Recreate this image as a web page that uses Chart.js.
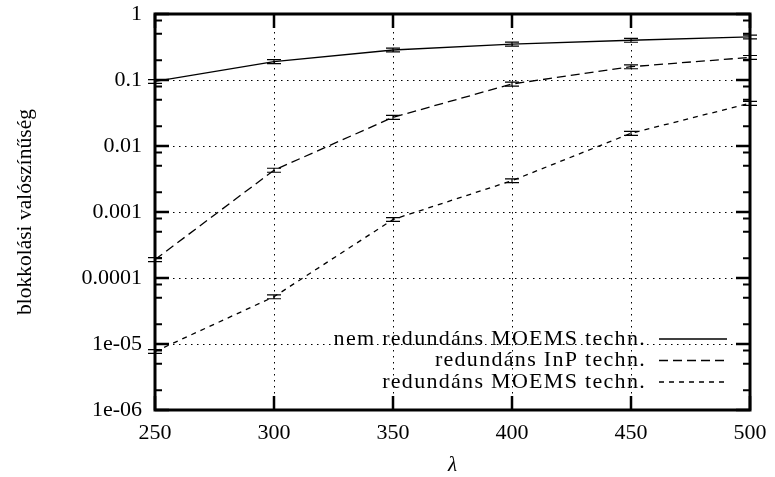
<!DOCTYPE html>
<html>
<head>
<meta charset="utf-8">
<style>
  body { margin: 0; background: #fff; }
  canvas { display: block; }
</style>
</head>
<body>
<canvas id="blockChart" width="775" height="477"></canvas>

<script src="https://cdn.jsdelivr.net/npm/chart.js"></script>

<script>
    // x values (lambda) and the three measured series
    const lambdas = [250, 300, 350, 400, 450, 500];
    const nemRedMoems = [0.095, 0.19, 0.285, 0.35, 0.40, 0.45];
    const nemRedMoemsErr = [0.006, 0.013, 0.019, 0.024, 0.027, 0.03];
    const redInp = [1.9e-4, 4.3e-3, 0.0272, 0.087, 0.159, 0.22];
    const redInpErr = [1.3e-5, 3e-4, 1.9e-3, 6e-3, 1.1e-2, 1.5e-2];
    const redMoems = [7.7e-6, 5.2e-5, 7.7e-4, 2.98e-3, 0.0156, 0.0444];
    const redMoemsErr = [5e-7, 3.5e-6, 5e-5, 2e-4, 1.1e-3, 3e-3];

    const seriesLabels = ['nem redundáns MOEMS techn.', 'redundáns InP techn.', 'redundáns MOEMS techn.'];

    // axis ticks
    const xTicks = [250, 300, 350, 400, 450, 500];
    const yTicks = [1e-6, 1e-5, 1e-4, 1e-3, 1e-2, 1e-1, 1];
    const yTickLabels = ['1e-06', '1e-05', '0.0001', '0.001', '0.01', '0.1', '1'];
    const yMinorMult = [2, 5, 8];

    const FONT = '"Liberation Serif", "Times New Roman", serif';

    const toPoints = vals => lambdas.map((l, i) => ({ x: l, y: vals[i] }));

    // gnuplot-like frame, ticks, grid, error bars and legend
    const gnuplotDecor = {
        id: 'gnuplotDecor',
        beforeDatasetsDraw(chart) {
            const { ctx, chartArea: a, scales: { x, y } } = chart;
            ctx.save();
            ctx.strokeStyle = '#000';
            ctx.lineWidth = 1;
            ctx.setLineDash([1.5, 4.5]);
            xTicks.slice(1, -1).forEach(v => {
                const px = Math.round(x.getPixelForValue(v)) + 0.5;
                ctx.beginPath(); ctx.moveTo(px, a.top); ctx.lineTo(px, a.bottom); ctx.stroke();
            });
            yTicks.slice(1, -1).forEach(v => {
                const py = Math.round(y.getPixelForValue(v)) + 0.5;
                ctx.beginPath(); ctx.moveTo(a.left, py); ctx.lineTo(a.right, py); ctx.stroke();
            });
            ctx.restore();
        },
        afterDatasetsDraw(chart) {
            const { ctx, chartArea: a, scales: { x, y } } = chart;
            ctx.save();
            ctx.strokeStyle = '#000';
            ctx.setLineDash([]);

            // error bars
            const errs = [nemRedMoemsErr, redInpErr, redMoemsErr];
            ctx.lineWidth = 1.2;
            chart.data.datasets.forEach((ds, i) => {
                ds.data.forEach((p, j) => {
                    const px = x.getPixelForValue(p.x);
                    const yl = y.getPixelForValue(p.y - errs[i][j]);
                    const yh = y.getPixelForValue(p.y + errs[i][j]);
                    ctx.beginPath();
                    ctx.moveTo(px, yl); ctx.lineTo(px, yh);
                    ctx.moveTo(px - 7, yl); ctx.lineTo(px + 7, yl);
                    ctx.moveTo(px - 7, yh); ctx.lineTo(px + 7, yh);
                    ctx.stroke();
                });
            });

            // inward ticks
            ctx.lineWidth = 2.5;
            xTicks.forEach(v => {
                const px = x.getPixelForValue(v);
                ctx.beginPath();
                ctx.moveTo(px, a.bottom); ctx.lineTo(px, a.bottom - 14);
                ctx.moveTo(px, a.top); ctx.lineTo(px, a.top + 14);
                ctx.stroke();
            });
            yTicks.forEach(v => {
                const py = y.getPixelForValue(v);
                ctx.beginPath();
                ctx.moveTo(a.left, py); ctx.lineTo(a.left + 14, py);
                ctx.moveTo(a.right, py); ctx.lineTo(a.right - 14, py);
                ctx.stroke();
            });
            ctx.lineWidth = 2;
            yTicks.slice(0, -1).forEach(d => {
                yMinorMult.forEach(m => {
                    const py = y.getPixelForValue(d * m);
                    ctx.beginPath();
                    ctx.moveTo(a.left, py); ctx.lineTo(a.left + 7, py);
                    ctx.moveTo(a.right, py); ctx.lineTo(a.right - 7, py);
                    ctx.stroke();
                });
            });

            // frame
            ctx.lineWidth = 3;
            ctx.strokeRect(a.left, a.top, a.right - a.left, a.bottom - a.top);

            // legend (bottom right, inside)
            ctx.font = '22px ' + FONT;
            ctx.letterSpacing = '1.3px';
            ctx.fillStyle = '#000';
            ctx.textAlign = 'right';
            ctx.textBaseline = 'middle';
            chart.data.datasets.forEach((ds, i) => {
                const ly = 339 + i * 21.5;
                ctx.fillText(ds.label, 646, ly);
                ctx.lineWidth = 1.3;
                ctx.setLineDash(ds.borderDash || []);
                ctx.beginPath(); ctx.moveTo(659, ly); ctx.lineTo(727, ly); ctx.stroke();
                ctx.setLineDash([]);
            });
            ctx.restore();
        }
    };

    const ctx = document.getElementById('blockChart').getContext('2d');
    const blockChart = new Chart(ctx, {
        type: 'line',
        data: {
            datasets: [
                { label: seriesLabels[0], data: toPoints(nemRedMoems), borderColor: '#000', borderWidth: 1.3, pointRadius: 0, fill: false },
                { label: seriesLabels[1], data: toPoints(redInp), borderColor: '#000', borderWidth: 1.3, borderDash: [9, 5], pointRadius: 0, fill: false },
                { label: seriesLabels[2], data: toPoints(redMoems), borderColor: '#000', borderWidth: 1.3, borderDash: [5, 5], pointRadius: 0, fill: false }
            ]
        },
        options: {
            responsive: false,
            animation: false,
            devicePixelRatio: 1,
            layout: { padding: { top: 14, right: 25, bottom: 0, left: 0 } },
            plugins: { legend: { display: false }, tooltip: { enabled: false } },
            scales: {
                x: {
                    type: 'linear',
                    min: 250, max: 500,
                    afterFit: s => { s.height = 67; s.paddingLeft = 0; s.paddingRight = 0; },
                    afterBuildTicks: s => { s.ticks = xTicks.map(v => ({ value: v })); },
                    grid: { display: false, drawTicks: false },
                    border: { display: false },
                    ticks: { color: '#000', padding: 10, maxRotation: 0, font: { family: FONT, size: 22 } },
                    title: { display: true, text: 'λ', color: '#000', padding: { top: 0, bottom: 1 },
                             font: { family: FONT, size: 21, style: 'italic', lineHeight: 1 } }
                },
                y: {
                    type: 'logarithmic',
                    min: 1e-6, max: 1,
                    afterFit: s => { s.width = 155; s.paddingTop = 0; s.paddingBottom = 0; },
                    afterBuildTicks: s => { s.ticks = yTicks.map(v => ({ value: v })); },
                    grid: { display: false, drawTicks: false },
                    border: { display: false },
                    ticks: {
                        color: '#000', padding: 13, font: { family: FONT, size: 22 },
                        callback: v => yTickLabels[yTicks.findIndex(t => Math.abs(Math.log10(t) - Math.log10(v)) < 1e-6)]
                    },
                    title: { display: true, text: 'blokkolási valószínűség', color: '#000', padding: { top: 12, bottom: 0 },
                             font: { family: FONT, size: 21.5 } }
                }
            }
        },
        plugins: [gnuplotDecor]
    });
</script>
</body>
</html>
